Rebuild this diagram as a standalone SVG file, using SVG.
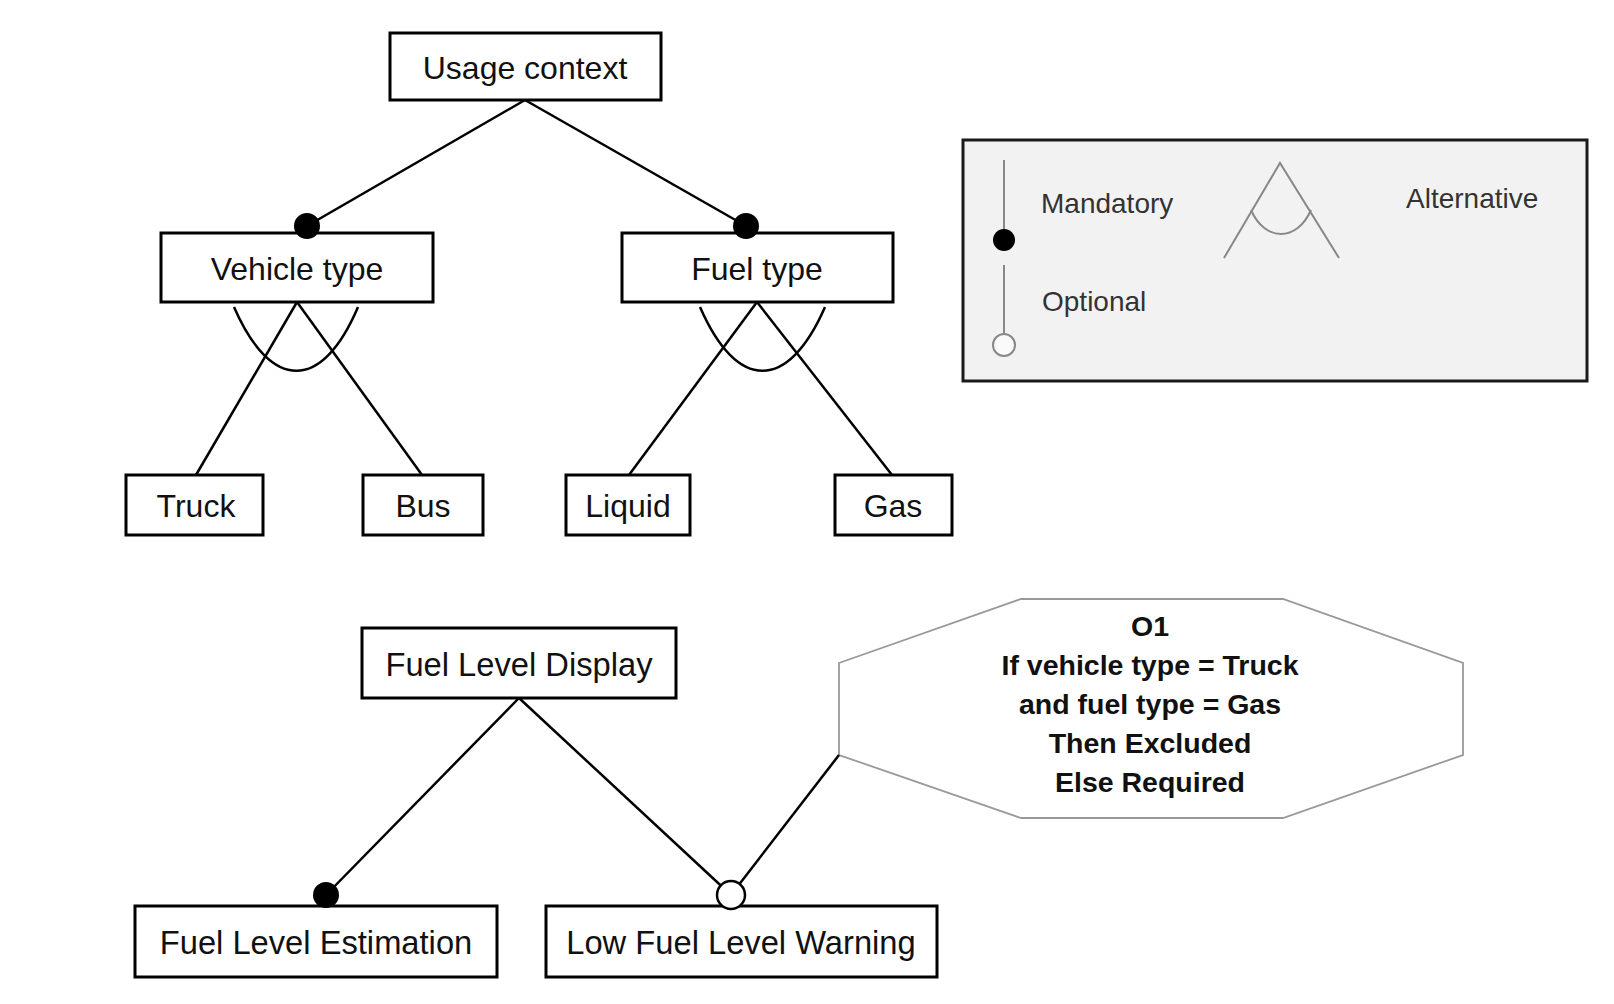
<svg xmlns="http://www.w3.org/2000/svg" width="1614" height="1004" viewBox="0 0 1614 1004">
<style>
.box{fill:#fff;stroke:#000;stroke-width:3}
.lbl{font-family:"Liberation Sans",Arial,sans-serif;font-size:32px;fill:#111;text-anchor:middle}
.lbl2{font-family:"Liberation Sans",Arial,sans-serif;font-size:32.7px;fill:#111;text-anchor:middle}
.ln{stroke:#000;stroke-width:2.5;fill:none}
.mand{fill:#000}
.opt{fill:#fff;stroke:#000;stroke-width:2.5}
.oct{fill:#fff;stroke:#999;stroke-width:1.8}
.cons{font-family:"Liberation Sans",Arial,sans-serif;font-weight:bold;font-size:28.5px;fill:#111;text-anchor:middle}
.leg{font-family:"Liberation Sans",Arial,sans-serif;font-size:28px;fill:#333}
.lg{stroke:#888;stroke-width:2;fill:none}
</style>
<rect width="1614" height="1004" fill="#fff"/>

<g id="usage-context"><rect class="box" x="390" y="33" width="271" height="67"/><text class="lbl" x="525" y="79">Usage context</text></g>
<g id="vehicle-type"><rect class="box" x="161" y="233" width="272" height="69"/><text class="lbl" x="297" y="280">Vehicle type</text></g>
<g id="fuel-type"><rect class="box" x="622" y="233" width="271" height="69"/><text class="lbl" x="757" y="280">Fuel type</text></g>
<g id="truck"><rect class="box" x="126" y="475" width="137" height="60"/><text class="lbl" x="196" y="517">Truck</text></g>
<g id="bus"><rect class="box" x="363" y="475" width="120" height="60"/><text class="lbl" x="423" y="517">Bus</text></g>
<g id="liquid"><rect class="box" x="566" y="475" width="124" height="60"/><text class="lbl" x="628" y="517">Liquid</text></g>
<g id="gas"><rect class="box" x="835" y="475" width="117" height="60"/><text class="lbl" x="893" y="517">Gas</text></g>

<g id="fuel-level-display"><rect class="box" x="362" y="628" width="314" height="70"/><text class="lbl2" x="519" y="676">Fuel Level Display</text></g>
<g id="fuel-level-estimation"><rect class="box" x="135" y="906" width="362" height="71"/><text class="lbl2" x="316" y="954">Fuel Level Estimation</text></g>
<g id="low-fuel-level-warning"><rect class="box" x="546" y="906" width="391" height="71"/><text class="lbl2" x="741" y="954">Low Fuel Level Warning</text></g>

<g id="constraint-o1">
<polygon class="oct" points="839,663 1021,599 1283,599 1463,663 1463,755 1283,818 1021,818 839,755"/>
<text class="cons" x="1150" y="636">O1</text>
<text class="cons" x="1150" y="675">If vehicle type = Truck</text>
<text class="cons" x="1150" y="714">and fuel type = Gas</text>
<text class="cons" x="1150" y="753">Then Excluded</text>
<text class="cons" x="1150" y="792">Else Required</text>
</g>

<g id="legend">
<rect x="963" y="140" width="624" height="241" fill="#f2f2f2" stroke="#1a1a1a" stroke-width="3"/>
<line class="lg" x1="1004" y1="160" x2="1004" y2="235"/>
<circle cx="1004" cy="240" r="11" fill="#000"/>
<line class="lg" x1="1004" y1="265" x2="1004" y2="334"/>
<circle cx="1004" cy="345" r="11" fill="#fafafa" stroke="#888" stroke-width="2"/>
<text class="leg" x="1041" y="213">Mandatory</text>
<text class="leg" x="1042" y="311">Optional</text>
<polyline class="lg" points="1224,258 1280,163 1339,258"/>
<path class="lg" d="M1251,210 C1265,242 1297,242 1311,210"/>
<text class="leg" x="1406" y="208">Alternative</text>
</g>

<g id="connectors">
<line class="ln" x1="525" y1="100" x2="307" y2="226"/>
<line class="ln" x1="525" y1="100" x2="746" y2="226"/>
<line class="ln" x1="297" y1="302" x2="196" y2="475"/>
<line class="ln" x1="297" y1="302" x2="422" y2="475"/>
<path class="ln" d="M234,307 C271,392 322,392 358,307"/>
<line class="ln" x1="757" y1="302" x2="629" y2="475"/>
<line class="ln" x1="757" y1="302" x2="892" y2="475"/>
<path class="ln" d="M700,307 C737,392 788,392 825,307"/>
<circle class="mand" cx="307" cy="226" r="13"/>
<circle class="mand" cx="746" cy="226" r="13"/>
<line class="ln" x1="519" y1="698" x2="326" y2="895"/>
<line class="ln" x1="519" y1="698" x2="731" y2="895"/>
<line class="ln" x1="731" y1="895" x2="839" y2="755"/>
<circle class="mand" cx="326" cy="895" r="13"/>
<circle class="opt" cx="731" cy="895" r="14"/>
</g>
</svg>
